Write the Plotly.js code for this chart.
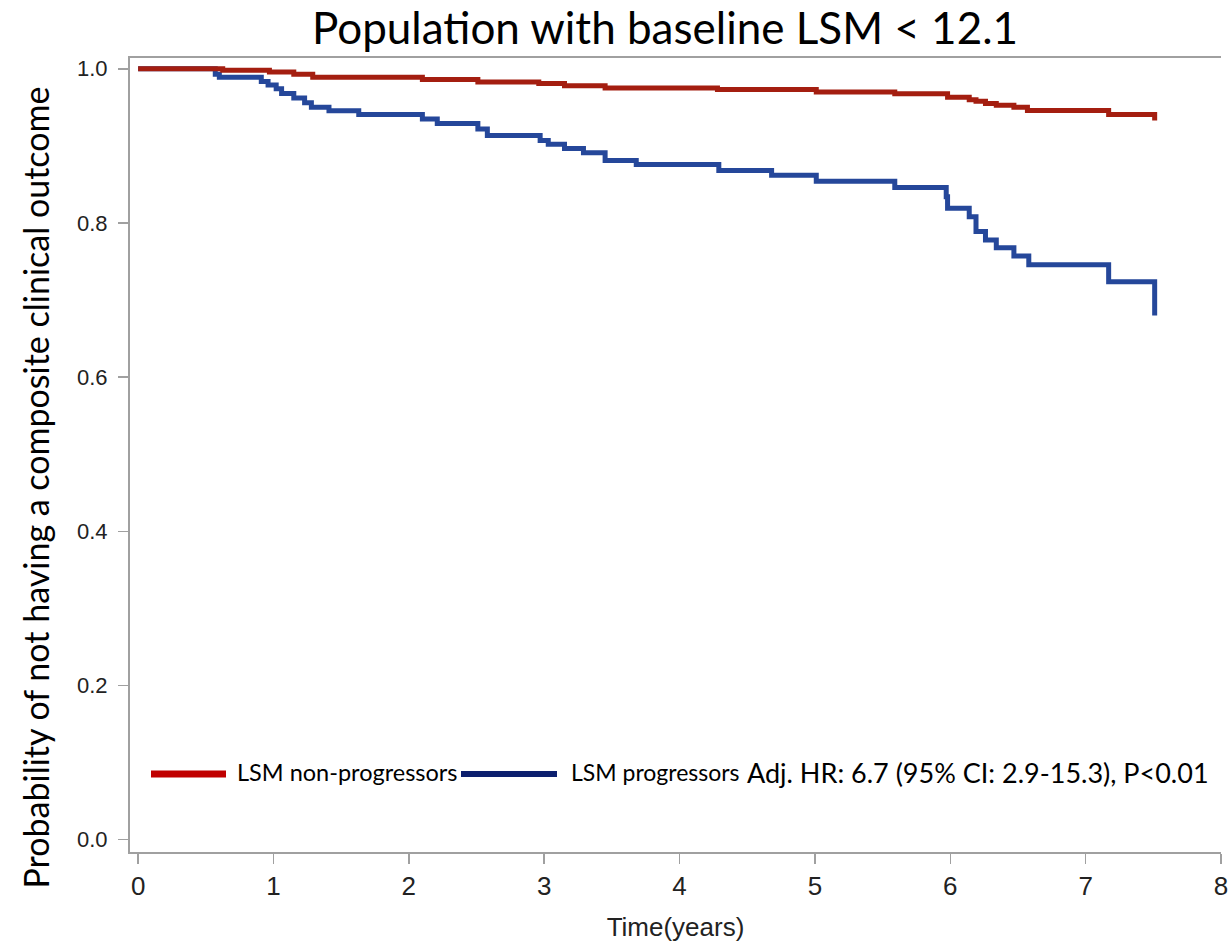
<!DOCTYPE html>
<html>
<head>
<meta charset="utf-8">
<script src="https://cdn.plot.ly/plotly-3.0.1.min.js"></script>
<style>html,body{margin:0;padding:0;background:#fff;}#chart{width:1229px;height:947px;}</style>
</head>
<body>
<div id="chart"></div>
<script>
// Kaplan-Meier step data
var nonProgTime = [0, 0.625, 0.97, 1.15, 1.29, 2.1, 2.51, 2.96, 3.15, 3.45, 4.28, 5.01, 5.59, 5.98, 6.14, 6.19, 6.26, 6.34, 6.47, 6.57, 7.17, 7.51];
var nonProgSurv = [1.0, 0.998, 0.9957, 0.993, 0.989, 0.986, 0.983, 0.981, 0.978, 0.975, 0.973, 0.970, 0.9677, 0.963, 0.960, 0.958, 0.955, 0.9526, 0.950, 0.946, 0.9406, 0.933];

var progTime = [0, 0.57, 0.60, 0.91, 0.96, 1.02, 1.06, 1.15, 1.23, 1.28, 1.41, 1.63, 2.1, 2.21, 2.51, 2.58, 2.97, 3.03, 3.15, 3.29, 3.45, 3.68, 4.29, 4.68, 5.01, 5.59, 5.97, 5.98, 6.14, 6.19, 6.26, 6.34, 6.47, 6.58, 7.17, 7.51];
var progSurv = [1.0, 0.993, 0.989, 0.9835, 0.979, 0.974, 0.968, 0.962, 0.956, 0.950, 0.9457, 0.9406, 0.935, 0.929, 0.922, 0.9136, 0.907, 0.902, 0.8966, 0.891, 0.881, 0.876, 0.868, 0.862, 0.854, 0.846, 0.834, 0.819, 0.808, 0.789, 0.778, 0.768, 0.757, 0.7457, 0.7236, 0.68];

var seriesNames = ["LSM non-progressors", "LSM progressors"];
var statText = "Adj. HR: 6.7 (95% CI: 2.9-15.3), P<0.01";
var xTicks = [0, 1, 2, 3, 4, 5, 6, 7, 8];
var yTicks = [0.0, 0.2, 0.4, 0.6, 0.8, 1.0];
var chartTitle = "Population with baseline LSM < 12.1";
var xTitle = "Time(years)";
var yTitle = "Probability of not having a composite clinical outcome";

var redLine = "#a41e10";
var blueLine = "#25479a";
var calibriLike = "Lato, 'Open Sans', sans-serif";
var arialLike = "'Liberation Sans', Arial, sans-serif";

var traces = [
  {x: progTime, y: progSurv, name: seriesNames[1], type: "scatter", mode: "lines",
   line: {shape: "hv", color: blueLine, width: 5}, showlegend: false},
  {x: nonProgTime, y: nonProgSurv, name: seriesNames[0], type: "scatter", mode: "lines",
   line: {shape: "hv", color: redLine, width: 5}, showlegend: false}
];

var L = 130, R = 1221, T = 58, B = 852;
function px(x) { return (x - L) / (R - L); }
function py(y) { return (B - y) / (B - T); }

var layout = {
  width: 1229, height: 947,
  margin: {l: L, r: 1229 - R, t: T, b: 947 - B, pad: 0},
  paper_bgcolor: "#ffffff", plot_bgcolor: "#ffffff",
  showlegend: false,
  title: {text: chartTitle, font: {family: calibriLike, size: 44, color: "#000"},
          xref: "container", x: 665 / 1229, xanchor: "center", yref: "container", y: 0.97, yanchor: "middle"},
  xaxis: {
    range: [-0.06, 8.0], tickvals: xTicks, ticktext: xTicks.map(String),
    showgrid: false, zeroline: false, showline: true, linecolor: "#a0a0a0", linewidth: 2, mirror: true,
    ticks: "outside", ticklen: 10, tickwidth: 1.5, tickcolor: "#a0a0a0", ticklabeloverflow: "allow",
    tickfont: {family: arialLike, size: 26, color: "#222"},
    title: {text: xTitle, font: {family: arialLike, size: 26, color: "#222"}, standoff: 18}
  },
  yaxis: {
    range: [-0.016, 1.014], tickvals: yTicks, ticktext: yTicks.map(function(v){return v.toFixed(1);}),
    showgrid: false, zeroline: false, showline: true, linecolor: "#a0a0a0", linewidth: 2, mirror: false,
    ticks: "outside", ticklen: 10, tickwidth: 1.5, tickcolor: "#a0a0a0", ticklabelstandoff: 6,
    tickfont: {family: arialLike, size: 22, color: "#222"}
  },
  shapes: [
    {type: "line", xref: "paper", yref: "paper", x0: px(151), x1: px(226), y0: py(774), y1: py(774),
     line: {color: "#c00000", width: 7}},
    {type: "line", xref: "paper", yref: "paper", x0: px(461), x1: px(557), y0: py(774), y1: py(774),
     line: {color: "#0c1f6e", width: 6}}
  ],
  annotations: [
    {text: yTitle, textangle: -90, xref: "paper", yref: "paper", x: px(35), y: py(487.5),
     xanchor: "center", yanchor: "middle", showarrow: false,
     font: {family: calibriLike, size: 34, color: "#000"}},
    {text: seriesNames[0], xref: "paper", yref: "paper", x: px(235), y: py(772), xanchor: "left", yanchor: "middle",
     showarrow: false, font: {family: calibriLike, size: 23.5, color: "#000"}},
    {text: seriesNames[1], xref: "paper", yref: "paper", x: px(569), y: py(772), xanchor: "left", yanchor: "middle",
     showarrow: false, font: {family: calibriLike, size: 23, color: "#000"}},
    {text: statText, xref: "paper", yref: "paper", x: px(745), y: py(772), xanchor: "left", yanchor: "middle",
     showarrow: false, font: {family: calibriLike, size: 27, color: "#000"}}
  ]
};

Plotly.newPlot("chart", traces, layout, {staticPlot: true, displayModeBar: false});
</script>
</body>
</html>
